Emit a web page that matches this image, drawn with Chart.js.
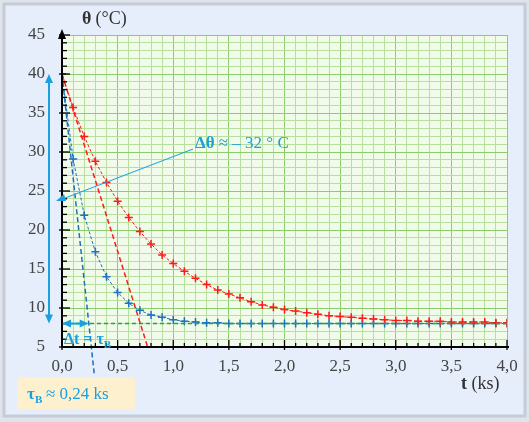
<!DOCTYPE html><html><head><meta charset="utf-8">
<script src="https://cdn.jsdelivr.net/npm/chart.js@4"></script>
<style>html,body{margin:0;padding:0;background:#dfe3ea}#w{position:absolute;left:0;top:0;width:529px;height:422px}</style></head><body>
<div id="w"><canvas id="c" width="529" height="422"></canvas></div>
<script>
const redT=[0,0.1,0.2,0.3,0.4,0.5,0.6,0.7,0.8,0.9,1.0,1.1,1.2,1.3,1.4,1.5,1.6,1.7,1.8,1.9,2.0,2.1,2.2,2.3,2.4,2.5,2.6,2.7,2.8,2.9,3.0,3.1,3.2,3.3,3.4,3.5,3.6,3.7,3.8,3.9,4.0];
const redV=[40,35.7,32.0,28.8,26.1,23.7,21.6,19.8,18.2,16.8,15.7,14.7,13.8,13.0,12.3,11.8,11.3,10.8,10.4,10.1,9.8,9.6,9.4,9.2,9.0,8.9,8.8,8.7,8.6,8.5,8.4,8.4,8.3,8.3,8.3,8.2,8.2,8.2,8.2,8.1,8.1];
const blueV=[40,29.1,21.9,17.2,14.0,12.0,10.6,9.7,9.1,8.8,8.5,8.3,8.2,8.1,8.1,8.0,8.0,8.0,8.0,8.0,8.0,8.0,8.0,8.0,8.0,8.0,8.0,8.0,8.0,8.0,8.0,8.0,8.0,8.0,8.0,8.0,8.0,8.0,8.0,8.0,8.0];
const redTangent=[[0,40],[0.77,5]];
const blueTangent=[[0,40],[0.29,1.5]];
const finalLine=[[0,8],[4,8]];
const xTicks=[0,0.5,1,1.5,2,2.5,3,3.5,4];
const yTicks=[5,10,15,20,25,30,35,40,45];
const pts=(t,v)=>t.map((x,i)=>({x,y:v[i]}));
const pp=a=>a.map(p=>({x:p[0],y:p[1]}));
const BL='#1aa0e0';
const deco={id:'deco',
 beforeDraw(c){const g=c.ctx;g.save();g.fillStyle='#dfe3ea';g.fillRect(0,0,529,422);
  g.fillStyle='#e6eefb';g.strokeStyle='#c5ccd8';g.lineWidth=3;g.fillRect(4,4,521,412);g.strokeRect(4,4,521,412);
  const a=c.chartArea;g.fillStyle='#f1fbe9';g.fillRect(a.left,a.top,a.right-a.left,a.bottom-a.top);g.restore();},
 afterDatasetsDraw(c){const g=c.ctx,x=c.scales.x,y=c.scales.y,a=c.chartArea;g.save();
  g.strokeStyle='#000';g.fillStyle='#000';g.lineWidth=2;
  g.beginPath();g.moveTo(a.left,a.bottom);g.lineTo(a.right+2,a.bottom);g.moveTo(a.left,a.bottom);g.lineTo(a.left,a.top-2);g.stroke();
  g.beginPath();g.moveTo(a.left,a.top-6);g.lineTo(a.left-4,a.top+4);g.lineTo(a.left+4,a.top+4);g.fill();
  g.lineWidth=1.3;
  for(let i=0;i<=40;i++){const px=x.getPixelForValue(i/10);const L=i%5?4:7;g.beginPath();g.moveTo(px,a.bottom-L);g.lineTo(px,a.bottom+(i%5?0:3));g.stroke();}
  for(let v=5;v<=45;v++){const py=y.getPixelForValue(v);const L=v%5?5:8;g.beginPath();g.moveTo(a.left-(v%5?0:3),py);g.lineTo(a.left+L,py);g.stroke();}
  g.strokeStyle=BL;g.fillStyle=BL;g.lineWidth=2;
  const ax=a.left-13,y1=y.getPixelForValue(40),y2=y.getPixelForValue(8);
  g.beginPath();g.moveTo(ax,y1+6);g.lineTo(ax,y2-6);g.stroke();
  g.beginPath();g.moveTo(ax,y1);g.lineTo(ax-4,y1+9);g.lineTo(ax+4,y1+9);g.fill();
  g.beginPath();g.moveTo(ax,y2);g.lineTo(ax-4,y2-9);g.lineTo(ax+4,y2-9);g.fill();
  const hx1=a.left,hx2=x.getPixelForValue(0.24);
  g.beginPath();g.moveTo(hx1+6,y2);g.lineTo(hx2-6,y2);g.stroke();
  g.beginPath();g.moveTo(hx1,y2);g.lineTo(hx1+9,y2-4);g.lineTo(hx1+9,y2+4);g.fill();
  g.beginPath();g.moveTo(hx2,y2);g.lineTo(hx2-9,y2-4);g.lineTo(hx2-9,y2+4);g.fill();
  g.lineWidth=1;g.beginPath();g.moveTo(193,149);g.lineTo(60,200);g.stroke();
  g.beginPath();g.moveTo(56,201);g.lineTo(64,194);g.lineTo(66,201);g.fill();
  g.font='bold 17px "Liberation Serif"';g.textBaseline='alphabetic';
  g.fillText('Δθ',195,148);let w=g.measureText('Δθ').width;g.font='17px "Liberation Serif"';g.fillText(' ≈ – 32 ° C',195+w,148);
  g.font='bold 16px "Liberation Serif"';g.fillText('Δt = τ',64,344);w=g.measureText('Δt = τ').width;g.font='bold 11px "Liberation Serif"';g.fillText('B',64+w,348);
  g.fillStyle='#fdf0cf';g.fillRect(17,377,118,32);g.fillStyle=BL;
  g.font='bold 17px "Liberation Serif"';g.fillText('τ',27,399);g.font='bold 11px "Liberation Serif"';g.fillText('B',35,403);
  g.font='17px "Liberation Serif"';g.fillText('≈ 0,24 ks',46,399);
  g.fillStyle='#333';g.font='bold 18px "Liberation Serif"';g.fillText('θ',82,24);g.font='18px "Liberation Serif"';g.fillText(' (°C)',91,24);
  g.font='bold 18px "Liberation Serif"';g.fillText('t',461,389);g.font='18px "Liberation Serif"';g.fillText(' (ks)',467,389);
  g.restore();}};
const ds=(label,data,color,w,dash,marker)=>({label,data,borderColor:color,backgroundColor:color,borderWidth:w,borderDash:dash,pointStyle:'cross',pointRadius:marker?4:0,pointBorderWidth:1.5,showLine:true,fill:false,tension:0});
new Chart(document.getElementById('c'),{type:'scatter',
 data:{datasets:[
  ds('final',pp(finalLine),'#22a83a',1.5,[4,3],false),
  ds('red',pts(redT,redV),'#ff1a1a',1,[3,2],true),
  ds('blue',pts(redT,blueV),'#1e6fc0',1,[3,2],true),
  ds('redTan',pp(redTangent),'#ff1a1a',1.5,[5,3],false),
  {...ds('blueTan',pp(blueTangent),'#1e6fc0',1.5,[5,3],false),clip:false}]},
 options:{responsive:false,animation:false,devicePixelRatio:1,
  layout:{padding:{top:35,right:22,left:0,bottom:0}},
  plugins:{legend:{display:false},tooltip:{enabled:false}},
  scales:{
   x:{type:'linear',min:0,max:4,afterFit(s){s.height=75;},afterBuildTicks(s){s.ticks=[];for(let i=0;i<=40;i++)s.ticks.push({value:i/10});},
    grid:{color:c=>Math.round(c.tick.value*10)%5?'#b8dfa0':'#8ccc6c',lineWidth:1,drawTicks:false},border:{display:false},
    ticks:{padding:9,color:'#444',font:{family:'Liberation Serif',size:17},autoSkip:false,maxRotation:0,callback:v=>Math.round(v*10)%5?'':v.toFixed(1).replace('.',','),}},
   y:{type:'linear',min:5,max:45,afterFit(s){s.width=62;},afterBuildTicks(s){s.ticks=[];for(let v=5;v<=45;v++)s.ticks.push({value:v});},
    grid:{color:c=>c.tick.value%5?'#b8dfa0':'#8ccc6c',lineWidth:1,drawTicks:false},border:{display:false},
    ticks:{padding:17,color:'#444',font:{family:'Liberation Serif',size:17},autoSkip:false,callback:v=>v%5?'':String(v)}}}},
 plugins:[deco]});
</script></body></html>
